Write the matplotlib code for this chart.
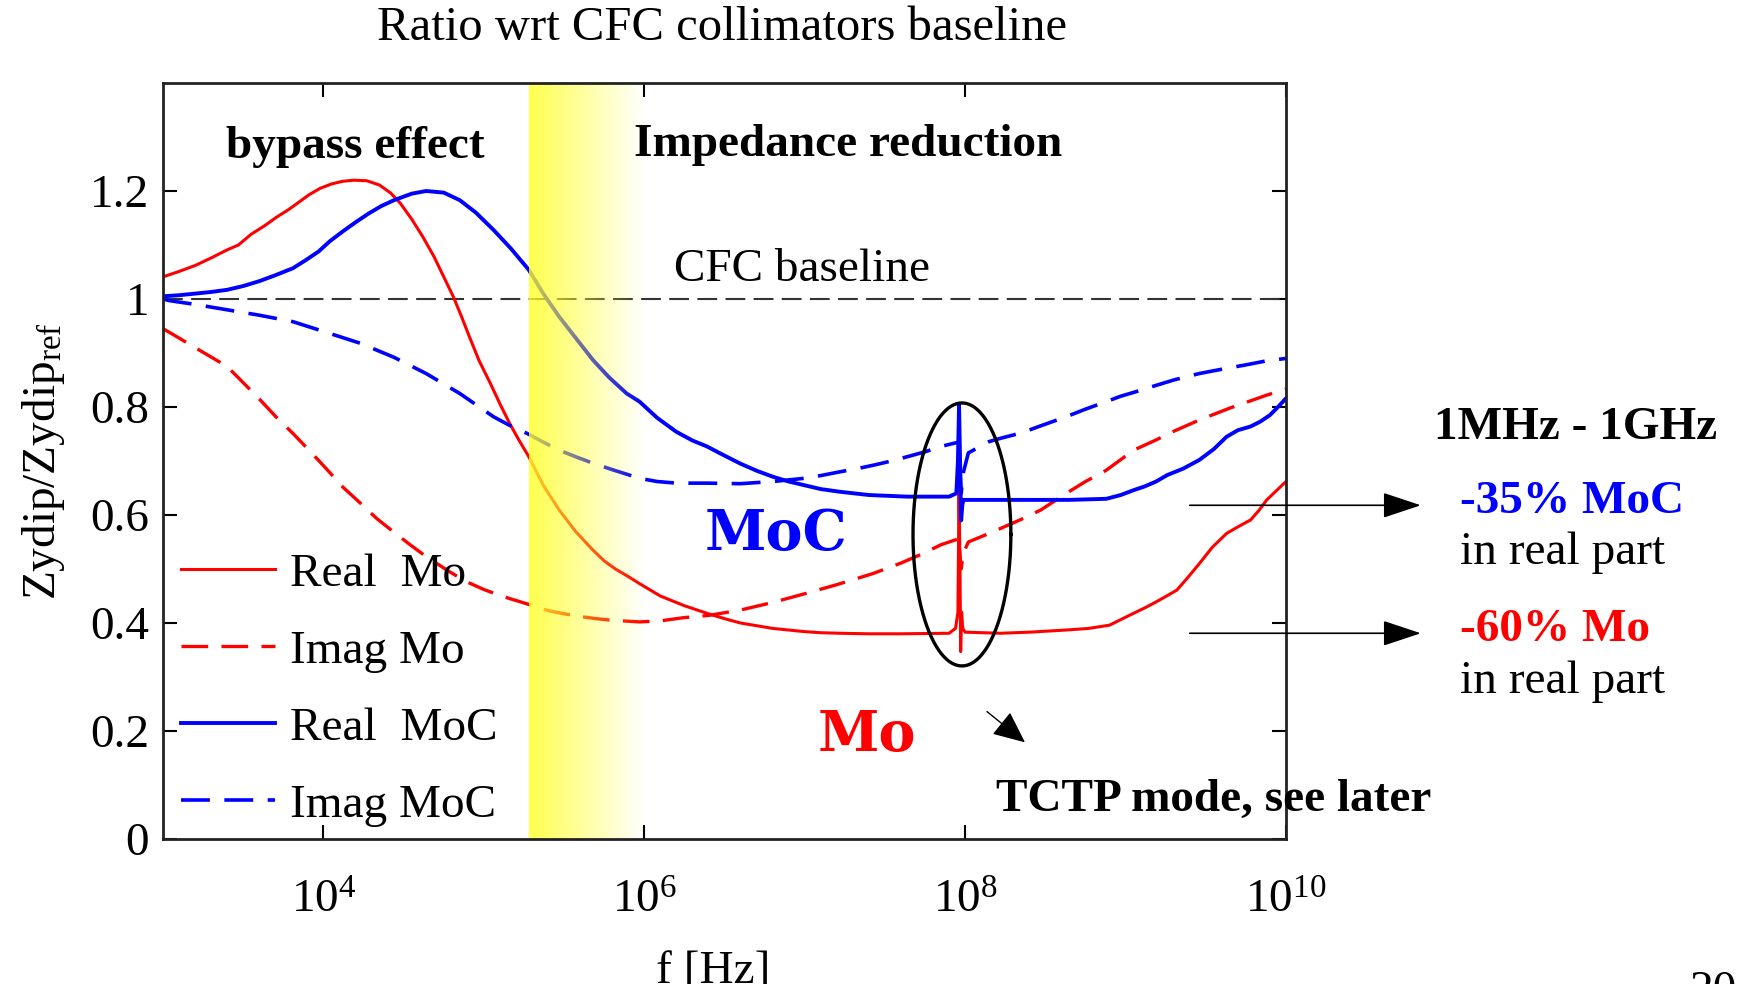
import numpy as np
import matplotlib
matplotlib.use("Agg")
import matplotlib.pyplot as plt
from matplotlib.ticker import NullLocator

plt.rcParams["font.family"] = ["Liberation Serif", "DejaVu Serif"]
plt.rcParams["mathtext.fontset"] = "custom"
plt.rcParams["mathtext.rm"] = "Liberation Serif"
plt.rcParams["mathtext.it"] = "Liberation Serif:italic"
plt.rcParams["mathtext.default"] = "regular"

# ---- impedance ratio curves: x = log10(f [Hz]), y = Zydip/Zydip_ref ----
real_mo_logf = [3.0, 3.1, 3.2, 3.3, 3.4, 3.47, 3.55, 3.63, 3.71, 3.78, 3.85, 3.91, 3.98,
                4.05, 4.12, 4.19, 4.27, 4.35, 4.42, 4.48, 4.55, 4.62, 4.69, 4.75, 4.81,
                4.86, 4.91, 4.97, 5.04, 5.10, 5.16, 5.22, 5.28, 5.37, 5.47, 5.57, 5.68,
                5.75, 5.82, 5.9, 5.97, 6.1, 6.25, 6.39, 6.5, 6.6, 6.8, 6.9, 7.0, 7.1,
                7.22, 7.4, 7.6, 7.9, 7.94, 7.955, 7.962, 7.968, 7.972, 7.978, 7.985, 8.0,
                8.22, 8.4, 8.63, 8.77, 8.9, 9.05, 9.12, 9.19, 9.25, 9.32, 9.39, 9.46,
                9.54, 9.63, 9.7, 9.78, 9.83, 9.88, 9.94, 10.0]
real_mo = [1.041, 1.051, 1.062, 1.076, 1.091, 1.100, 1.120, 1.135, 1.152, 1.165, 1.180, 1.193,
           1.205, 1.213, 1.218, 1.220, 1.219, 1.211, 1.196, 1.177, 1.148, 1.115, 1.078, 1.041,
           1.004, 0.968, 0.930, 0.886, 0.844, 0.806, 0.770, 0.738, 0.708, 0.655, 0.609, 0.570,
           0.535, 0.515, 0.500, 0.486, 0.473, 0.450, 0.432, 0.418, 0.408, 0.400, 0.390, 0.387,
           0.384, 0.382, 0.381, 0.380, 0.380, 0.381, 0.390, 0.420, 0.650, 0.500, 0.347, 0.420,
           0.390, 0.383, 0.381, 0.383, 0.387, 0.390, 0.396, 0.418, 0.428, 0.439, 0.449, 0.461,
           0.485, 0.510, 0.540, 0.566, 0.578, 0.591, 0.608, 0.628, 0.645, 0.662]

imag_mo_logf = [3.0, 3.07, 3.2, 3.4, 3.5, 3.6, 3.7, 3.81, 3.92, 4.02, 4.12, 4.23, 4.33,
                4.44, 4.54, 4.64, 4.77, 4.88, 5.0, 5.12, 5.23, 5.4, 5.5, 5.6, 5.7, 5.8,
                5.97, 6.1, 6.25, 6.4, 6.6, 6.8, 7.01, 7.2, 7.43, 7.6, 7.74, 7.85, 7.96,
                7.975, 7.99, 8.02, 8.15, 8.22, 8.35, 8.47, 8.63, 8.75, 8.88, 9.05, 9.19,
                9.3, 9.46, 9.65, 9.88, 10.0]
imag_mo = [0.945, 0.933, 0.910, 0.875, 0.845, 0.815, 0.783, 0.751, 0.717, 0.685, 0.652, 0.622,
           0.594, 0.568, 0.545, 0.523, 0.498, 0.478, 0.462, 0.449, 0.439, 0.423, 0.417, 0.412,
           0.408, 0.405, 0.402, 0.404, 0.410, 0.414, 0.424, 0.438, 0.455, 0.471, 0.492, 0.511,
           0.529, 0.545, 0.556, 0.500, 0.530, 0.550, 0.566, 0.575, 0.592, 0.609, 0.640, 0.662,
           0.683, 0.720, 0.739, 0.755, 0.776, 0.798, 0.822, 0.833]

real_moc_logf = [3.0, 3.1, 3.2, 3.3, 3.4, 3.5, 3.6, 3.7, 3.81, 3.89, 3.97, 4.04, 4.12,
                 4.2, 4.28, 4.36, 4.44, 4.55, 4.64, 4.75, 4.85, 4.95, 5.06, 5.17, 5.28,
                 5.37, 5.47, 5.58, 5.68, 5.78, 5.89, 5.97, 6.08, 6.2, 6.3, 6.39, 6.5, 6.6,
                 6.7, 6.8, 6.9, 7.0, 7.1, 7.22, 7.4, 7.64, 7.9, 7.945, 7.955, 7.962, 7.975,
                 7.983, 7.99, 8.05, 8.47, 8.65, 8.88, 8.97, 9.05, 9.12, 9.19, 9.26, 9.36,
                 9.46, 9.55, 9.63, 9.7, 9.78, 9.84, 9.9, 9.95, 10.0]
real_moc = [1.005, 1.007, 1.010, 1.013, 1.017, 1.024, 1.033, 1.044, 1.057, 1.072, 1.088, 1.107,
            1.125, 1.142, 1.158, 1.172, 1.183, 1.195, 1.200, 1.197, 1.183, 1.160, 1.128, 1.093,
            1.054, 1.010, 0.967, 0.925, 0.887, 0.855, 0.825, 0.810, 0.780, 0.754, 0.738, 0.727,
            0.710, 0.695, 0.682, 0.671, 0.662, 0.655, 0.648, 0.643, 0.637, 0.634, 0.634, 0.640,
            0.700, 0.804, 0.590, 0.620, 0.628, 0.628, 0.628, 0.628, 0.630, 0.637, 0.646, 0.653,
            0.662, 0.674, 0.686, 0.702, 0.722, 0.745, 0.757, 0.764, 0.773, 0.785, 0.800, 0.816]

imag_moc_logf = [3.0, 3.04, 3.2, 3.4, 3.6, 3.81, 4.0, 4.23, 4.44, 4.64, 4.85, 5.06, 5.16,
                 5.27, 5.37, 5.47, 5.58, 5.68, 5.8, 5.97, 6.08, 6.2, 6.39, 6.6, 6.8, 7.0,
                 7.1, 7.22, 7.33, 7.44, 7.54, 7.64, 7.75, 7.85, 7.96, 7.975, 7.99, 8.02,
                 8.15, 8.22, 8.35, 8.47, 8.63, 8.75, 8.88, 8.97, 9.05, 9.19, 9.3, 9.46,
                 9.6, 9.75, 9.87, 10.0]
imag_moc = [1.000, 0.997, 0.990, 0.980, 0.970, 0.958, 0.940, 0.918, 0.892, 0.862, 0.825, 0.782,
            0.766, 0.751, 0.735, 0.720, 0.707, 0.696, 0.684, 0.668, 0.662, 0.659, 0.659, 0.658,
            0.662, 0.668, 0.673, 0.680, 0.686, 0.693, 0.700, 0.708, 0.717, 0.727, 0.735, 0.640,
            0.680, 0.715, 0.736, 0.742, 0.752, 0.765, 0.782, 0.796, 0.810, 0.820, 0.827, 0.840,
            0.850, 0.862, 0.870, 0.878, 0.885, 0.890]

baseline = 1.0
yticks = [0, 0.2, 0.4, 0.6, 0.8, 1.0, 1.2]
ytick_labels = ["0", "0.2", "0.4", "0.6", "0.8", "1", "1.2"]
xtick_exp = [4, 6, 8, 10]

# shaded "impedance reduction" band and the resonance marker
band_logf = (5.28, 6.0)
ring_logf, ring_val = 7.98, 0.564
ring_half_dec, ring_half_val = 0.305, 0.2435

# reduction summary arrows (start / end in log10 f, value)
arrow_logf = (9.40, 10.84)
arrow_vals = [0.618, 0.381]

RED = "#ff0000"
BLUE = "#0000ff"

fig = plt.figure(figsize=(17.43, 9.84), dpi=100)
ax = fig.add_axes([163 / 1743, 1 - 839 / 984, 1123 / 1743, 756 / 984])
ax.set_xscale("log")

f = lambda lf: 10 ** np.asarray(lf, dtype=float)

ax.plot(f(real_mo_logf), real_mo, color=RED, lw=2.2, label="Real  Mo", zorder=2)
ax.plot(f(imag_mo_logf), imag_mo, color=RED, lw=2.4, dashes=(8, 4), label="Imag Mo", zorder=2)
ax.plot(f(real_moc_logf), real_moc, color=BLUE, lw=2.8, label="Real  MoC", zorder=2.1)
ax.plot(f(imag_moc_logf), imag_moc, color=BLUE, lw=2.6, dashes=(8, 4), label="Imag MoC", zorder=2.1)
ax.axhline(baseline, color="#333333", lw=1.5, dashes=(9.5, 4), zorder=1.9)

ax.set_xlim(1e3, 1e10)
ax.set_ylim(0, 1.4)

# yellow band fading out towards 1 MHz, drawn over the curves
inv = ax.transAxes.inverted()
bx0 = inv.transform(ax.transData.transform((10 ** band_logf[0], 0)))[0]
bx1 = inv.transform(ax.transData.transform((10 ** band_logf[1], 0)))[0]
grad = np.zeros((1, 256, 4))
grad[..., 0] = 1.0
grad[..., 1] = 1.0
grad[..., 2] = 0.15
grad[..., 3] = np.linspace(0.82, 0.0, 256)
ax.imshow(grad, extent=(bx0, bx1, 0, 1), transform=ax.transAxes, aspect="auto",
          interpolation="bilinear", zorder=2.5)
ax.set_xlim(1e3, 1e10)
ax.set_ylim(0, 1.4)

# ellipse round the TCTP resonance
t = np.linspace(0, 2 * np.pi, 300)
ax.plot(10 ** (ring_logf + ring_half_dec * np.cos(t)), ring_val + ring_half_val * np.sin(t),
        color="black", lw=2.4, zorder=3)

# axes styling
ax.set_xticks([10.0 ** e for e in xtick_exp])
ax.set_xticklabels([f"$10^{{{e}}}$" for e in xtick_exp])
ax.xaxis.set_minor_locator(NullLocator())
ax.set_yticks(yticks)
ax.set_yticklabels(ytick_labels)
ax.tick_params(direction="in", length=10, width=1.5, top=True, right=True,
               labelsize=34, colors="black")
ax.tick_params(axis="y", pad=10)
ax.tick_params(axis="x", pad=30)
for s in ax.spines.values():
    s.set_linewidth(2.0)
    s.set_color("#222222")

ax.legend(loc="lower left", bbox_to_anchor=(0.016, 0.016), frameon=False, fontsize=34,
          handlelength=2.0, handletextpad=0.3, labelspacing=0.72, borderpad=0,
          borderaxespad=0)

# labels inside the plot
ax.text(10 ** 4.20, 1.282, "bypass effect", fontsize=34, fontweight="bold",
        ha="center", va="center", zorder=5)
ax.text(10 ** 7.27, 1.286, "Impedance reduction", fontsize=34, fontweight="bold",
        ha="center", va="center", zorder=5)
ax.text(10 ** 6.98, 1.054, "CFC baseline", fontsize=34, ha="center", va="center", zorder=5)
ax.text(10 ** 6.82, 0.563, "MoC", fontsize=40, fontweight="bold", family="DejaVu Serif",
        color=BLUE, ha="center", va="center", zorder=5)
ax.text(10 ** 7.385, 0.191, "Mo", fontsize=40, fontweight="bold", family="DejaVu Serif",
        color=RED, ha="center", va="center", zorder=5)
ax.text(10 ** 9.55, 0.072, "TCTP mode, see later", fontsize=34, fontweight="bold",
        ha="center", va="center", zorder=5)

ax.annotate("", xy=(10 ** 8.373, 0.179), xytext=(10 ** 8.136, 0.236),
            arrowprops=dict(arrowstyle="-|>,head_length=1.0,head_width=0.45", color="black",
                            lw=1.0, mutation_scale=20, shrinkA=0, shrinkB=0))
for v in arrow_vals:
    ax.annotate("", xy=(10 ** arrow_logf[1], v), xytext=(10 ** arrow_logf[0], v),
                arrowprops=dict(arrowstyle="-|>,head_length=1.2,head_width=0.4",
                                color="black", lw=1.2, mutation_scale=20,
                                shrinkA=0, shrinkB=0),
                annotation_clip=False)

# figure level texts
fig.text(0.414, 0.9715, "Ratio wrt CFC collimators baseline", fontsize=35,
         ha="center", va="center")
fig.text(0.0247, 0.5315, r"Zydip/Zydip$_{\mathrm{ref}}$", fontsize=34, rotation=90,
         ha="center", va="center")
fig.text(0.409, 0.001, "f [Hz]", fontsize=34, ha="center", va="baseline")
fig.text(0.9696, -0.019, "20", fontsize=34, ha="left", va="baseline")

fig.text(0.823, 0.565, "1MHz - 1GHz", fontsize=34, fontweight="bold", ha="left", va="center")
fig.text(0.8374, 0.4894, "-35% MoC", fontsize=34, fontweight="bold", color=BLUE,
         ha="left", va="center")
fig.text(0.8374, 0.4385, "in real part", fontsize=34, ha="left", va="center")
fig.text(0.8374, 0.3595, "-60% Mo", fontsize=34, fontweight="bold", color=RED,
         ha="left", va="center")
fig.text(0.8374, 0.3075, "in real part", fontsize=34, ha="left", va="center")

fig.savefig("out.png", dpi=100)
